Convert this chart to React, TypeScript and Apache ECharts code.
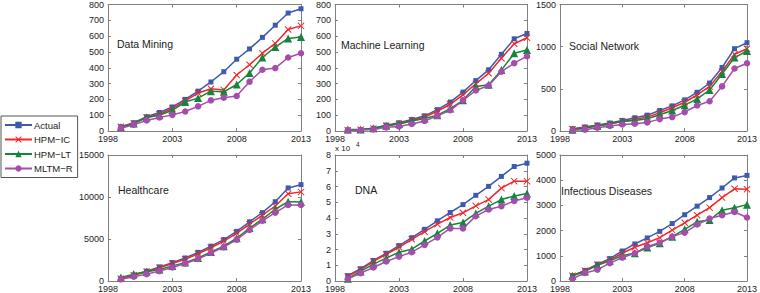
import React, { useEffect, useRef } from "react";
import * as echarts from "echarts";

const years = [1999, 2000, 2001, 2002, 2003, 2004, 2005, 2006, 2007, 2008, 2009, 2010, 2011, 2012, 2013];
const seriesNames = ["Actual", "HPM\u2212IC", "HPM\u2212LT", "MLTM\u2212R"];
const panelTitles = ["Data Mining", "Machine Learning", "Social Network", "Healthcare", "DNA", "Infectious Diseases"];
const xTicks = [1998, 2003, 2008, 2013];

// Data Mining
const dmActual = [27, 52, 90, 117, 152, 200, 252, 310, 375, 454, 519, 592, 669, 746, 773];
const dmIC = [27, 48, 85, 106, 142, 190, 240, 267, 260, 354, 419, 492, 554, 642, 665];
const dmLT = [23, 48, 85, 100, 131, 183, 208, 252, 248, 294, 367, 465, 531, 585, 594];
const dmR = [17, 40, 67, 85, 102, 123, 156, 194, 210, 221, 312, 387, 398, 465, 492];
// Machine Learning
const mlActual = [6, 8, 17, 37, 52, 73, 96, 135, 183, 246, 319, 387, 485, 583, 617];
const mlIC = [4, 8, 15, 33, 46, 67, 88, 125, 169, 229, 298, 365, 460, 552, 590];
const mlLT = [10, 10, 17, 33, 44, 63, 79, 100, 142, 194, 281, 292, 385, 492, 512];
const mlR = [4, 6, 10, 23, 29, 44, 63, 96, 131, 194, 256, 288, 375, 429, 473];
// Social Network
const snActual = [27, 47, 71, 94, 125, 157, 188, 243, 298, 369, 459, 569, 753, 976, 1047];
const snIC = [20, 39, 63, 82, 114, 137, 165, 216, 275, 341, 427, 529, 706, 910, 976];
const snLT = [16, 35, 59, 82, 114, 125, 145, 192, 243, 306, 380, 486, 675, 871, 949];
const snR = [8, 16, 39, 59, 78, 86, 102, 141, 165, 224, 302, 353, 529, 741, 804];
// Healthcare
const hcActual = [310, 700, 1180, 1680, 2190, 2740, 3410, 4150, 4930, 5910, 7050, 8140, 9440, 11080, 11470];
const hcIC = [270, 670, 1100, 1570, 2080, 2580, 3250, 3960, 4740, 5680, 6770, 7830, 8930, 10380, 10610];
const hcLT = [430, 820, 1100, 1370, 1800, 2190, 2740, 3450, 4150, 5090, 6300, 7360, 8540, 9440, 9400];
const hcR = [200, 510, 820, 1180, 1600, 2080, 2620, 3330, 4030, 4930, 6070, 7170, 8140, 9050, 9050];
// DNA
const dnaActual = [3400, 7800, 13000, 17600, 22500, 27500, 32800, 38200, 43500, 48500, 54400, 60100, 66400, 72700, 74800];
const dnaIC = [2900, 7100, 12400, 17000, 21400, 26500, 31300, 36100, 40300, 43300, 47700, 51700, 59000, 63400, 63400];
const dnaLT = [1500, 6100, 10700, 14500, 18300, 20200, 25400, 30300, 35500, 37200, 42900, 47500, 51700, 54000, 55500];
const dnaR = [1300, 5000, 8600, 12400, 15500, 18300, 22900, 27700, 33400, 33400, 41200, 45400, 47500, 50800, 52900];
// Infectious Diseases
const idActual = [210, 420, 670, 890, 1190, 1470, 1710, 1970, 2280, 2630, 2970, 3310, 3690, 4090, 4190];
const idIC = [210, 410, 640, 840, 1100, 1340, 1520, 1720, 2020, 2310, 2610, 2910, 3310, 3660, 3640];
const idLT = [210, 380, 620, 800, 1010, 1100, 1330, 1500, 1760, 2050, 2350, 2420, 2810, 2910, 3030];
const idR = [90, 320, 450, 710, 930, 1100, 1370, 1520, 1760, 1920, 2240, 2480, 2610, 2740, 2520];

const panelData = [
  [dmActual, dmIC, dmLT, dmR],
  [mlActual, mlIC, mlLT, mlR],
  [snActual, snIC, snLT, snR],
  [hcActual, hcIC, hcLT, hcR],
  [dnaActual, dnaIC, dnaLT, dnaR],
  [idActual, idIC, idLT, idR],
];
const yMax = [800, 800, 1500, 15000, 80000, 5000];
const yInterval = [100, 100, 500, 5000, 10000, 1000];

const COLORS = ["#3D5BAE", "#F2262B", "#15853B", "#A64CAE"];
const X_PATH = "path://M0,1L1,0L5,4L9,0L10,1L6,5L10,9L9,10L5,6L1,10L0,9L4,5Z";
const SYMBOLS = ["rect", X_PATH, "triangle", "circle"];
const SYMBOL_SIZES = [5, 7, 8, 6.5];

const FONT = "'Liberation Sans', Arial, sans-serif";
const AXIS_COLOR = "#808080";
const TEXT_COLOR = "#222";

const gridLefts = [108, 335, 560];
const gridWidths = [193, 192, 193];
const gridTops = [3, 155];
const gridHeight = 128;

const titlePos = [
  [117, 38],
  [341, 39],
  [569, 40],
  [118, 184],
  [355, 184],
  [561, 185],
];

export default function App() {
  const ref = useRef<HTMLDivElement>(null);
  useEffect(() => {
    if (!ref.current) return;
    const chart = echarts.init(ref.current, undefined, { renderer: "svg" });
    const grids: any[] = [];
    const xAxes: any[] = [];
    const yAxes: any[] = [];
    const series: any[] = [];
    const titles: any[] = [];
    for (let i = 0; i < 6; i++) {
      const col = i % 3;
      const row = Math.floor(i / 3);
      grids.push({ left: gridLefts[col], top: gridTops[row], width: gridWidths[col], height: gridHeight });
      const xCommon = {
        gridIndex: i,
        type: "value",
        min: xTicks[0],
        max: xTicks[xTicks.length - 1],
        interval: 5,
        splitLine: { show: false },
        axisLine: { show: true, onZero: false, lineStyle: { color: AXIS_COLOR, width: 1 } },
        axisTick: { show: true, inside: true, length: 3, lineStyle: { color: AXIS_COLOR } },
      };
      xAxes.push({
        ...xCommon,
        position: "bottom",
        axisLabel: {
          show: true,
          margin: 3,
          fontSize: 9,
          fontFamily: FONT,
          color: TEXT_COLOR,
          formatter: (v: number) => String(v),
        },
      });
      xAxes.push({ ...xCommon, position: "top", axisLabel: { show: false } });
      const isDNA = i === 4;
      const yCommon = {
        gridIndex: i,
        type: "value",
        min: 0,
        max: yMax[i],
        interval: yInterval[i],
        splitLine: { show: false },
        axisLine: { show: true, onZero: false, lineStyle: { color: AXIS_COLOR, width: 1 } },
        axisTick: { show: true, inside: true, length: 3, lineStyle: { color: AXIS_COLOR } },
      };
      yAxes.push({
        ...yCommon,
        position: "left",
        axisLabel: {
          show: true,
          margin: 4,
          fontSize: 9,
          fontFamily: FONT,
          color: TEXT_COLOR,
          formatter: (v: number) => (isDNA ? String(v / 10000) : String(v)),
        },
      });
      yAxes.push({ ...yCommon, position: "right", axisLabel: { show: false } });
      for (let s = 0; s < 4; s++) {
        series.push({
          name: seriesNames[s],
          type: "line",
          xAxisIndex: 2 * i,
          yAxisIndex: 2 * i,
          data: years.map((y, k) => [y, panelData[i][s][k]]),
          symbol: SYMBOLS[s],
          symbolSize: SYMBOL_SIZES[s],
          showAllSymbol: true,
          lineStyle: { color: COLORS[s], width: 1.5 },
          itemStyle: { color: COLORS[s], borderWidth: 0 },
          emphasis: { disabled: true },
        });
      }
      titles.push({
        text: panelTitles[i],
        left: titlePos[i][0],
        top: titlePos[i][1],
        padding: 0,
        textStyle: { fontSize: 10.5, fontWeight: "normal", fontFamily: FONT, color: TEXT_COLOR },
      });
    }
    titles.push({
      text: "x 10",
      left: 335,
      top: 144,
      padding: 0,
      textStyle: { fontSize: 8, fontWeight: "normal", fontFamily: FONT, color: TEXT_COLOR },
    });
    titles.push({
      text: "4",
      left: 356,
      top: 141,
      padding: 0,
      textStyle: { fontSize: 6.5, fontWeight: "normal", fontFamily: FONT, color: TEXT_COLOR },
    });
    chart.setOption({
      animation: false,
      backgroundColor: "#ffffff",
      title: titles,
      legend: {
        data: seriesNames,
        orient: "vertical",
        left: 1,
        top: 116,
        padding: [4, 5, 4, 3],
        itemGap: 4.5,
        itemWidth: 27,
        itemHeight: 8,
        borderColor: "#555",
        borderWidth: 1,
        textStyle: { fontSize: 9.5, fontFamily: FONT, color: TEXT_COLOR, padding: [0, 0, 0, -3] },
        selectedMode: false,
      },
      grid: grids,
      xAxis: xAxes,
      yAxis: yAxes,
      series,
    });
    return () => chart.dispose();
  }, []);
  return (
    <div
      ref={ref}
      style={{ position: "fixed", left: 0, top: 0, width: 760, height: 293, background: "#fff" }}
    />
  );
}
